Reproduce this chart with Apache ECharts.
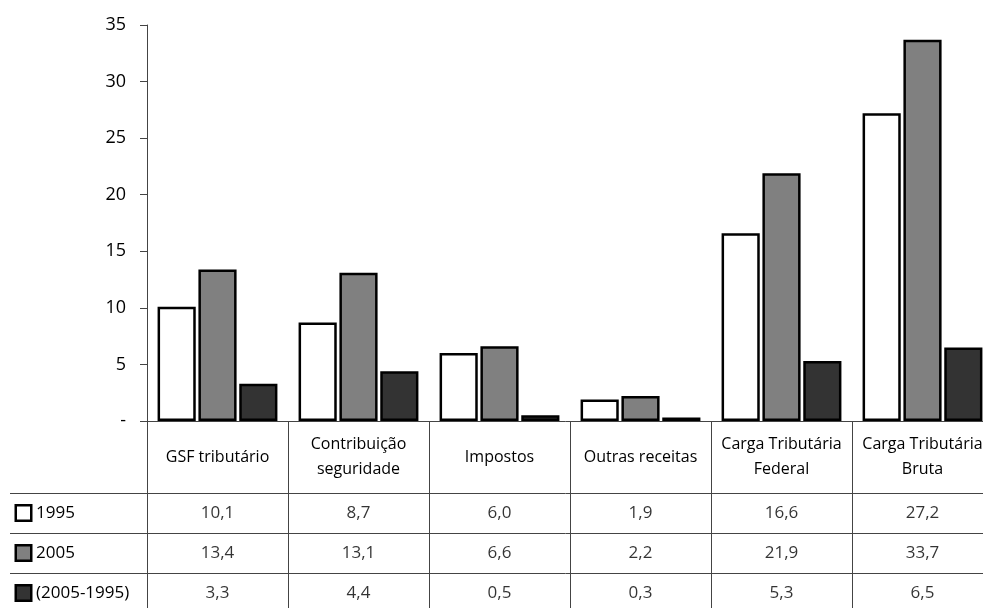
<!DOCTYPE html>
<html>
<head>
<meta charset="utf-8">
<script src="https://cdn.jsdelivr.net/npm/echarts@6/dist/echarts.min.js"></script>
<style>
  html, body { margin: 0; padding: 0; background: #fff; }
  #chart { width: 983px; height: 608px; }
</style>
</head>
<body>
<div id="chart"></div>
<script>
var categories = ['GSF tributário', 'Contribuição\nseguridade', 'Impostos', 'Outras receitas', 'Carga Tributária\nFederal', 'Carga Tributária\nBruta'];
var seriesNames = ['1995', '2005', '(2005-1995)'];
var values1995 = [10.1, 8.7, 6.0, 1.9, 16.6, 27.2];
var values2005 = [13.4, 13.1, 6.6, 2.2, 21.9, 33.7];
var valuesDiff = [3.3, 4.4, 0.5, 0.3, 5.3, 6.5];
var yTicks = [0, 5, 10, 15, 20, 25, 30, 35];

var fills = ['#ffffff', '#808080', '#333333'];
var allValues = [values1995, values2005, valuesDiff];
var font = '"Open Sans", "DejaVu Sans", sans-serif';
var lineColor = '#444';

// cells of the data table: [column, row, value]
var cells = [];
allValues.forEach(function (arr, r) {
  arr.forEach(function (v, c) { cells.push([c, r, v]); });
});

function fmt(v) { return v.toFixed(1).replace('.', ','); }

var chart = echarts.init(document.getElementById('chart'));

var box = function (i) {
  return { width: 13, height: 13, backgroundColor: fills[i], borderColor: '#000', borderWidth: 2.5 };
};

var option = {
  animation: false,
  textStyle: { fontFamily: font },
  grid: [
    { left: 147, top: 25, right: -10, height: 396, outerBoundsMode: 'none', containLabel: false },
    { left: 147, top: 493, right: -10, height: 120, outerBoundsMode: 'none', containLabel: false }
  ],
  xAxis: [
    {
      type: 'category',
      gridIndex: 0,
      data: categories,
      axisLine: { lineStyle: { color: lineColor, width: 1 } },
      axisTick: { show: true, length: 187, lineStyle: { color: lineColor } },
      axisLabel: {
        interval: 0,
        margin: 36,
        verticalAlign: 'middle',
        lineHeight: 25,
        fontSize: 16,
        color: '#000',
        fontFamily: font
      }
    },
    {
      type: 'category',
      gridIndex: 1,
      data: categories,
      show: false
    }
  ],
  yAxis: [
    {
      type: 'value',
      gridIndex: 0,
      min: 0,
      max: 35,
      interval: 5,
      splitLine: { show: false },
      axisLine: { show: true, lineStyle: { color: lineColor } },
      axisTick: { show: true, length: 7, lineStyle: { color: lineColor } },
      axisLabel: {
        margin: 21,
        fontSize: 18,
        color: '#000',
        fontFamily: font,
        formatter: function (v) { return yTicks.indexOf(v) === 0 ? '-' : String(v); }
      }
    },
    {
      type: 'category',
      gridIndex: 1,
      inverse: true,
      data: seriesNames,
      axisLine: { show: false },
      axisTick: { show: true, length: 137, lineStyle: { color: lineColor } },
      splitLine: { show: true, lineStyle: { color: lineColor, width: 1 } },
      axisLabel: {
        align: 'left',
        margin: 130,
        fontSize: 17,
        color: '#000',
        fontFamily: font,
        formatter: function (v, i) { return '{b' + i + '|}{t|' + v + '}'; },
        rich: {
          b0: box(0),
          b1: box(1),
          b2: box(2),
          t: { fontSize: 17, color: '#000', padding: [0, 0, 0, 6], fontFamily: font }
        }
      }
    },
    {
      type: 'category',
      gridIndex: 1,
      data: seriesNames,
      offset: 137,
      axisLine: { show: true, lineStyle: { color: lineColor } },
      axisTick: { show: false },
      axisLabel: { show: false }
    }
  ],
  series: [
    {
      name: seriesNames[0], type: 'bar', xAxisIndex: 0, yAxisIndex: 0,
      data: values1995, barGap: '7%', barCategoryGap: '15%',
      itemStyle: { color: fills[0], borderColor: '#000', borderWidth: 2.5 }
    },
    {
      name: seriesNames[1], type: 'bar', xAxisIndex: 0, yAxisIndex: 0,
      data: values2005, barGap: '7%', barCategoryGap: '15%',
      itemStyle: { color: fills[1], borderColor: '#000', borderWidth: 2.5 }
    },
    {
      name: seriesNames[2], type: 'bar', xAxisIndex: 0, yAxisIndex: 0,
      data: valuesDiff, barGap: '7%', barCategoryGap: '15%',
      itemStyle: { color: fills[2], borderColor: '#000', borderWidth: 2.5 }
    },
    {
      type: 'scatter', xAxisIndex: 1, yAxisIndex: 1,
      symbolSize: 0,
      data: cells,
      label: {
        show: true,
        position: 'inside',
        fontSize: 17,
        color: '#000',
        fontFamily: font,
        formatter: function (p) { return fmt(p.value[2]); }
      }
    }
  ]
};

chart.setOption(option);
</script>
</body>
</html>
